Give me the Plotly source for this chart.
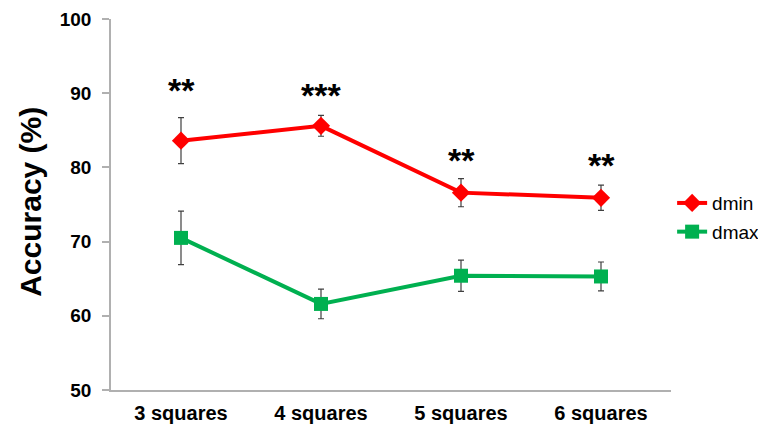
import plotly.graph_objects as go

categories = ["3 squares", "4 squares", "5 squares", "6 squares"]
dmin_values = [83.6, 85.6, 76.6, 75.9]
dmin_err = [3.1, 1.4, 1.9, 1.7]
dmax_values = [70.5, 61.6, 65.4, 65.3]
dmax_err = [3.6, 2.0, 2.1, 1.95]
sig_labels = ["**", "***", "**", "**"]
sig_y = [90.8, 90.2, 81.4, 80.7]
y_ticks = [50, 60, 70, 80, 90, 100]

FONT = "Liberation Sans, Arial, sans-serif"

fig = go.Figure()
fig.add_trace(go.Scatter(
    x=categories, y=dmin_values, name="dmin", mode="lines+markers",
    line=dict(color="#FF0000", width=4),
    marker=dict(symbol="diamond", size=14, color="#FF0000"),
    error_y=dict(type="data", array=dmin_err, color="#404040", thickness=1.2, width=3),
    legendgroup="a",
))
fig.add_trace(go.Scatter(
    x=categories, y=dmax_values, name="dmax", mode="lines+markers",
    line=dict(color="#00B050", width=4),
    marker=dict(symbol="square", size=14, color="#00B050"),
    error_y=dict(type="data", array=dmax_err, color="#404040", thickness=1.2, width=3),
    legendgroup="b",
))

for c, lab, yv in zip(categories, sig_labels, sig_y):
    fig.add_annotation(x=c, y=yv, text="<b>" + lab + "</b>", showarrow=False, xanchor="center",
                       yanchor="middle", yshift=-3,
                       font=dict(family=FONT, size=34, color="black"))

fig.add_annotation(xref="paper", yref="paper", x=-0.143, y=0.507, text="<b>Accuracy (%)</b>",
                   textangle=-90, showarrow=False, xanchor="center", yanchor="middle",
                   font=dict(family=FONT, size=30, color="black"))

fig.update_layout(
    width=758, height=416,
    margin=dict(l=103, r=95, t=11, b=34, autoexpand=False),
    paper_bgcolor="white", plot_bgcolor="white",
    showlegend=True,
    legend=dict(x=1.002, y=0.555, xanchor="left", yanchor="top",
                font=dict(family=FONT, size=19, color="black"),
                traceorder="grouped", tracegroupgap=1,
                bgcolor="rgba(0,0,0,0)", itemwidth=30),
    xaxis=dict(type="category", range=[-0.5, 3.5], showline=True, linecolor="#B0B0B0",
               linewidth=1.5, ticks="", showgrid=False, zeroline=False,
               tickfont=dict(family=FONT, size=20, color="black", weight="bold"),
               ticklabelstandoff=4),
    yaxis=dict(range=[50, 100], tickvals=y_ticks, showline=True, linecolor="#B0B0B0",
               linewidth=1.5, ticks="outside", ticklen=7, tickcolor="#B0B0B0", tickwidth=1.5,
               showgrid=False, zeroline=False,
               tickfont=dict(family=FONT, size=19, color="black", weight="bold"),
               ticklabelstandoff=7),
)

fig.write_html("out.html")
